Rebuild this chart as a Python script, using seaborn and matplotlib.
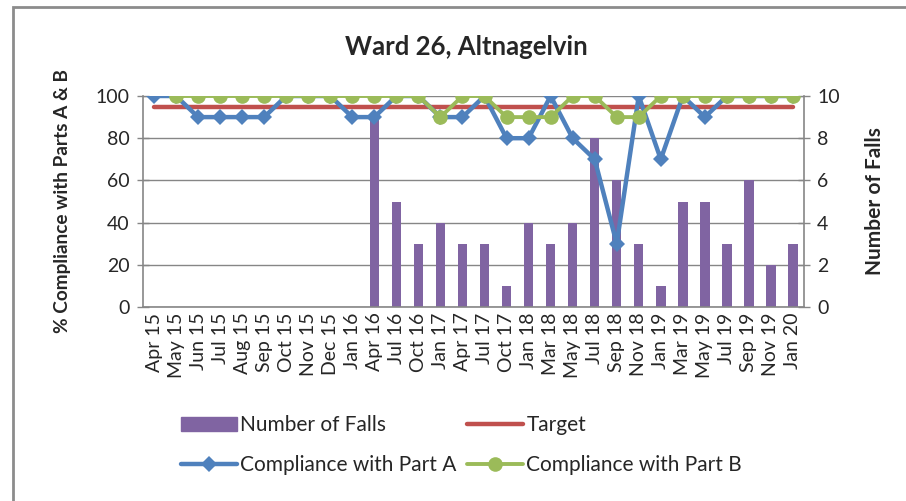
import matplotlib
matplotlib.use("Agg")
import matplotlib.pyplot as plt
import matplotlib.patches as mpatches
from matplotlib.lines import Line2D
import numpy as np
import pandas as pd
import seaborn as sns

# Data
months = ["Apr 15", "May 15", "Jun 15", "Jul 15", "Aug 15", "Sep 15", "Oct 15",
          "Nov 15", "Dec 15", "Jan 16", "Apr 16", "Jul 16", "Oct 16", "Jan 17",
          "Apr 17", "Jul 17", "Oct 17", "Jan 18", "Mar 18", "May 18", "Jul 18",
          "Sep 18", "Nov 18", "Jan 19", "Mar 19", "May 19", "Jul 19", "Sep 19",
          "Nov 19", "Jan 20"]
falls = [0, 0, 0, 0, 0, 0, 0, 0, 0, 0, 9, 5, 3, 4, 3, 3, 1, 4, 3, 4, 8, 6, 3,
         1, 5, 5, 3, 6, 2, 3]
part_a = [100, 100, 90, 90, 90, 90, 100, 100, 100, 90, 90, 100, 100, 90, 90,
          100, 80, 80, 100, 80, 70, 30, 100, 70, 100, 90, 100, 100, 100, 100]
part_b = [np.nan, 100, 100, 100, 100, 100, 100, 100, 100, 100, 100, 100, 100,
          90, 100, 100, 90, 90, 90, 100, 100, 90, 90, 100, 100, 100, 100, 100,
          100, 100]
target = [95] * len(months)

df = pd.DataFrame({"pos": np.arange(len(months)), "month": months,
                   "falls": falls, "part_a": part_a, "part_b": part_b,
                   "target": target})

C_BAR = "#8064A2"
C_TARGET = "#C0504D"
C_A = "#4F81BD"
C_B = "#9BBB59"
C_AXIS = "#868686"

sns.set_style("white")
plt.rcParams["font.family"] = ["Lato", "DejaVu Sans"]

fig = plt.figure(figsize=(9.06, 5.01), dpi=100)
ax = fig.add_axes([143 / 906, 1 - 307 / 501, (804 - 143) / 906, (307 - 96) / 501])
ax2 = ax.twinx()

# bars on the secondary axis (behind the lines)
sns.barplot(data=df, x="pos", y="falls", native_scale=True, color=C_BAR,
            width=0.43, linewidth=0, saturation=1, ax=ax2)
ax2.set_ylim(0, 10)
ax2.set_yticks(range(0, 11, 2))
ax2.yaxis.grid(True, color=C_AXIS, linewidth=1)
ax2.set_axisbelow(True)
ax2.set_ylabel("Number of Falls", fontsize=15, fontweight="bold", labelpad=18)

ax.set_zorder(ax2.get_zorder() + 1)
ax.patch.set_visible(False)

sns.lineplot(data=df, x="pos", y="target", color=C_TARGET, linewidth=3.2,
             solid_capstyle="round", ax=ax)
sns.lineplot(data=df, x="pos", y="part_a", color=C_A, linewidth=3.2,
             marker="D", markersize=8.5, markeredgewidth=0, ax=ax)
sns.lineplot(data=df, x="pos", y="part_b", color=C_B, linewidth=2.8,
             marker="o", markersize=10.5, markeredgewidth=0, ax=ax)

ax.set_ylim(0, 100)
ax.set_yticks(range(0, 101, 20))
ax.set_xlim(-0.5, len(months) - 0.5)
ax.set_xticks(df["pos"])
ax.set_xticklabels(months, rotation=90)
ax.set_xticks(np.arange(len(months) + 1) - 0.5, minor=True)
ax.tick_params(axis="x", which="major", length=0, labelsize=14, pad=4)
ax.tick_params(axis="x", which="minor", length=6, width=1, color=C_AXIS,
               direction="out")
ax.tick_params(axis="y", length=9, width=1, color=C_AXIS, direction="inout",
               labelsize=14, pad=5)
ax2.tick_params(axis="y", length=9, width=1, color=C_AXIS, direction="inout",
                labelsize=14, pad=5)
ax.set_xlabel("")
ax.set_ylabel("% Compliance with Parts A & B", fontsize=13.7,
              fontweight="bold", labelpad=18)
ax.grid(False)

for s in ["top", "right"]:
    ax.spines[s].set_visible(False)
for s in ["top", "left", "bottom"]:
    ax2.spines[s].set_visible(False)
for s in ["left", "bottom"]:
    ax.spines[s].set_color(C_AXIS)
    ax.spines[s].set_linewidth(1.2)
ax2.spines["right"].set_color(C_AXIS)
ax2.spines["right"].set_linewidth(1.2)

fig.text(466 / 906, 1 - 47 / 501, "Ward 26, Altnagelvin", ha="center",
         va="center", fontsize=18.5, fontweight="bold")

handles = [
    mpatches.Patch(color=C_BAR, label="Number of Falls"),
    Line2D([], [], color=C_A, linewidth=3.2, marker="D", markersize=8.5,
           markeredgewidth=0, label="Compliance with Part A"),
    Line2D([], [], color=C_TARGET, linewidth=3.2, solid_capstyle="round",
           label="Target"),
    Line2D([], [], color=C_B, linewidth=2.8, marker="o", markersize=10.5,
           markeredgewidth=0, label="Compliance with Part B"),
]
fig.legend(handles=handles, ncol=2, loc="center left",
           bbox_to_anchor=(162 / 906, 1 - 445 / 501), frameon=False,
           fontsize=15, handlelength=2.7, handletextpad=0.15,
           columnspacing=0.5, labelspacing=0.95)

fig.patches.append(mpatches.Rectangle((13 / 906, -0.1), 1.2, 1.1 - 7 / 501,
                                      transform=fig.transFigure, fill=False,
                                      edgecolor="#8c8c8c", linewidth=2))

fig.savefig("out.png", dpi=100)
